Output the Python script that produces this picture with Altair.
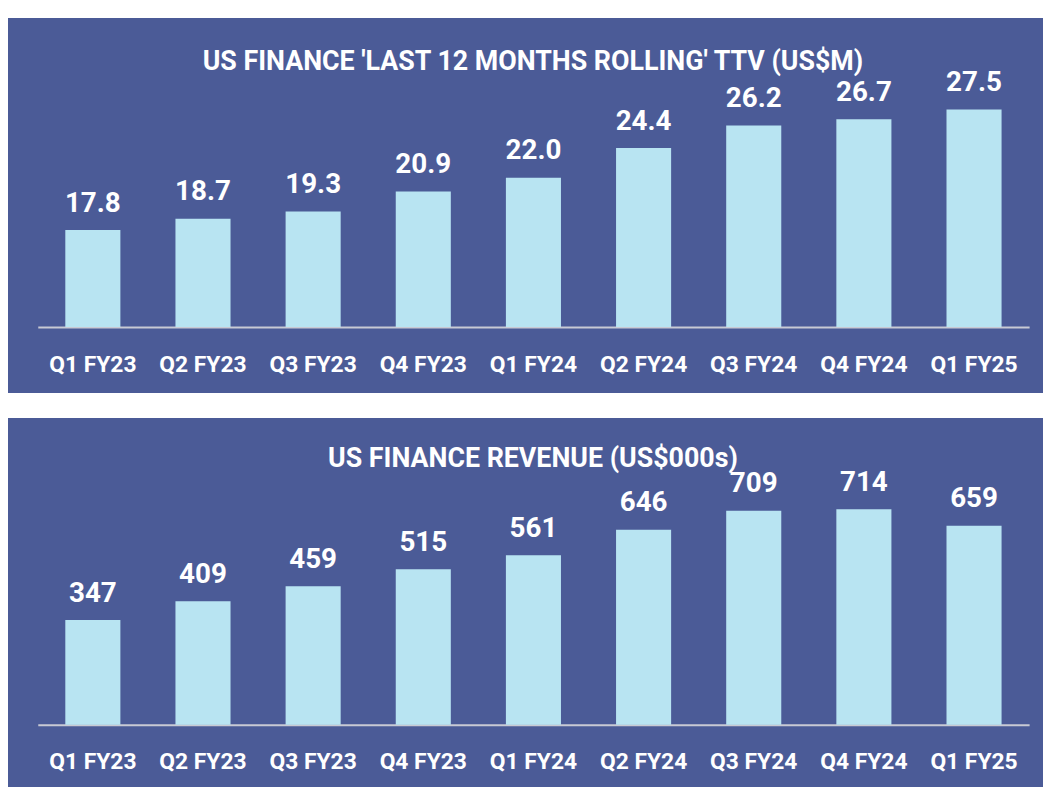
import altair as alt
import pandas as pd

quarters = ["Q1 FY23", "Q2 FY23", "Q3 FY23", "Q4 FY23", "Q1 FY24",
            "Q2 FY24", "Q3 FY24", "Q4 FY24", "Q1 FY25"]
ttv_values = [17.8, 18.7, 19.3, 20.9, 22.0, 24.4, 26.2, 26.7, 27.5]
revenue_values = [347, 409, 459, 515, 561, 646, 709, 714, 659]

FONT = "Roboto"
PANEL = "#4B5B97"
BAR = "#B8E4F2"
AXIS_LINE = "#C8CAD4"


def panel(values, title, fmt, base, top, px_base, px_top, height, title_offset):
    df = pd.DataFrame({"quarter": quarters, "value": values})
    x = alt.X(
        "quarter:N",
        sort=quarters,
        scale=alt.Scale(range=[30, 1029], paddingInner=0.5, paddingOuter=0.25),
        axis=alt.Axis(
            title=None, orient="bottom", offset=-(height - px_base),
            domainColor=AXIS_LINE, domainWidth=2, ticks=False, tickSize=0,
            labelPadding=44.5, labelBaseline="alphabetic", labelAngle=0,
            labelFont=FONT, labelFontSize=23, labelFontWeight="bold",
            labelColor="white", grid=False,
        ),
    )
    y = alt.Y(
        "value:Q",
        scale=alt.Scale(domain=[base, top], range=[px_base, px_top], nice=False, zero=False),
        axis=None,
    )
    bars = alt.Chart(df).mark_bar(color=BAR).encode(x=x, y=y, y2=alt.datum(base))
    labels = alt.Chart(df).mark_text(
        font=FONT, fontSize=28, fontWeight="bold", color="white",
        baseline="alphabetic", dy=-18.5,
    ).encode(x=x, y=y, text=alt.Text("value:Q", format=fmt))
    return alt.layer(bars, labels).properties(
        width=1043,
        height=height,
        title=alt.TitleParams(
            text=title, font=FONT, fontSize=27, fontWeight="bold", color="white",
            anchor="middle", frame="group", offset=-title_offset,
            baseline="alphabetic", dx=7.5,
        ),
    )


top_panel = panel(ttv_values, "US FINANCE 'LAST 12 MONTHS ROLLING' TTV (US$M)",
                  ".1f", 10, 35, 311.5, 311.5 - 25 * 12.536, 378, 79.4)
bottom_panel = panel(revenue_values, "US FINANCE REVENUE (US$000s)",
                     "d", 0, 1000, 309.3, 309.3 - 1000 * 0.3044, 378, 77.0)

chart = alt.vconcat(top_panel, bottom_panel, spacing=25).properties(
    background="white",
    padding={"left": 0, "top": 7, "right": 0, "bottom": 0},
).configure_view(fill=PANEL, stroke=None)

chart.save("out.html", embed_options={"renderer": "svg", "actions": False})
